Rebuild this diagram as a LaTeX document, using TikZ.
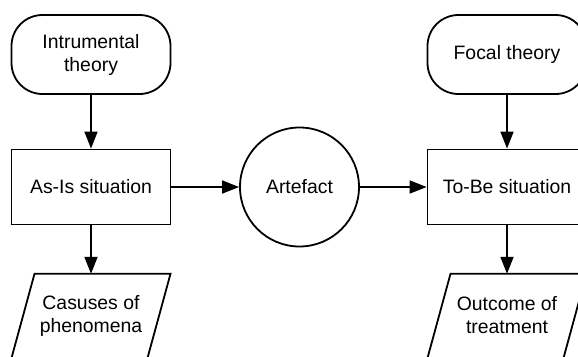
\documentclass[tikz,border=0pt]{standalone}
\usepackage{fontspec}
\setmainfont{Liberation Sans}
\usetikzlibrary{arrows.meta,shapes.geometric}

\tikzset{
  base/.style={draw=black, line width=1.8pt, align=center, inner sep=0pt,
    font=\fontsize{19.4pt}{23pt}\selectfont},
  terminal/.style={base, rectangle, rounded corners=31pt,
    minimum width=159pt, minimum height=79pt},
  process/.style={base, rectangle, minimum width=159pt, minimum height=75pt},
  artefact/.style={base, circle, minimum size=119pt},
  datanode/.style={align=center, inner sep=0pt, minimum width=136pt, minimum height=83pt,
    font=\fontsize{19.4pt}{23pt}\selectfont},
  flow/.style={line width=1.8pt, -{Triangle[length=17pt,width=13pt]}},
  slant/.style={draw=black, line width=1.8pt, line join=miter}
}

\begin{document}
\begin{tikzpicture}[x=1pt,y=-1pt]
  \useasboundingbox (0,0) rectangle (578,356);
  \clip (0,0) rectangle (578,356);
  \fill[white] (0,0) rectangle (578,356);

  % left column
  \node[terminal] (inst) at (91,54.5) {Intrumental\\theory};
  \node[process]  (asis) at (91,187) {As-Is situation};
  \node[datanode] (cause) at (91,315.5) {Casuses of\\phenomena};

  % middle
  \node[artefact] (art) at (299.5,187) {Artefact};

  % right column
  \node[terminal] (focal) at (507,54.5) {Focal theory};
  \node[process]  (tobe)  at (507,187) {To-Be situation};
  \node[datanode] (outc)  at (507,315.5) {Outcome of\\treatment};

  % parallelogram outlines around the data nodes (running past the lower edge)
  \foreach \n in {cause,outc}{
    \draw[slant] ([xshift=-56.5pt]\n.north) -- ([xshift=79.5pt]\n.north)
      -- ([xshift=54pt,yshift=-10pt]\n.south) -- ([xshift=-82pt,yshift=-10pt]\n.south) -- cycle;
  }

  % connectors
  \draw[flow] (inst) -- (asis);
  \draw[flow] (asis) -- (cause);
  \draw[flow] (asis) -- (art);
  \draw[flow] (art) -- (tobe);
  \draw[flow] (focal) -- (tobe);
  \draw[flow] (tobe) -- (outc);
\end{tikzpicture}
\end{document}
